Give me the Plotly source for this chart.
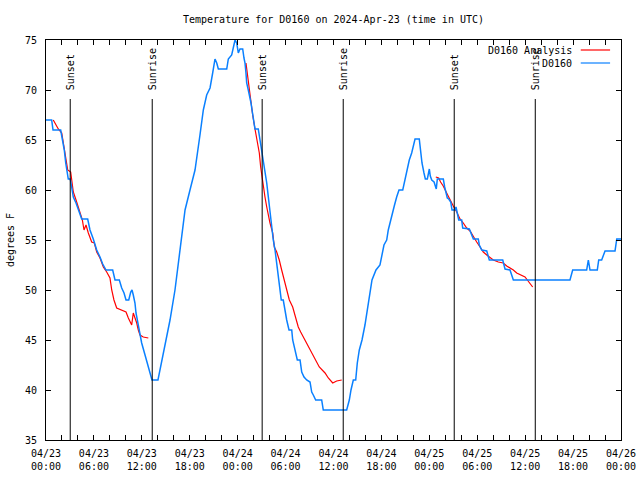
import pandas as pd
import plotly.graph_objects as go

BASE = "2024-04-23 00:00"
TITLE = "Temperature for D0160 on 2024-Apr-23 (time in UTC)"

# Observations (hours since BASE, deg F)
obs_hours = [0.0, 0.71, 0.88, 1.84, 2.04, 2.29, 2.47, 2.63, 2.79, 3.04, 3.22, 3.42, 3.76, 4.17, 4.47,
             5.22, 5.51, 5.92, 6.35, 6.76, 7.10, 7.51, 8.35, 8.64, 9.18, 9.48, 9.77, 10.02, 10.36,
             10.61, 10.77, 10.93, 11.14, 11.27, 11.43, 11.61, 11.77, 11.98, 12.40, 12.90, 13.27,
             14.02, 14.53, 15.03, 15.53, 16.15, 16.78, 17.41, 18.03, 18.66, 19.28, 19.70, 20.12,
             20.54, 20.87, 21.16, 21.38, 21.58, 22.63, 22.83, 23.25, 23.54, 23.67, 23.88, 24.08,
             24.29, 24.63, 24.79, 24.92, 25.04, 25.13, 25.33, 25.54, 25.67, 25.80, 25.96, 26.17,
             26.58, 26.80, 27.01, 27.21, 27.42, 27.64, 27.84, 28.05, 28.26, 28.46, 28.68, 28.89,
             29.09, 29.30, 29.46, 29.71, 29.93, 30.14, 30.43, 30.77, 30.89, 31.09, 31.30, 31.47,
             31.81, 32.02, 32.31, 32.64, 33.06, 33.27, 33.47, 33.77, 34.52, 34.72, 37.65, 37.98,
             38.19, 38.48, 38.78, 38.98, 39.23, 39.57, 39.94, 40.32, 40.82, 41.32, 41.82, 42.32,
             42.66, 42.86, 43.16, 43.36, 43.61, 43.91, 44.20, 44.67, 44.87, 45.17, 45.49, 45.79,
             46.08, 46.21, 46.74, 46.92, 47.08, 47.33, 47.50, 47.75, 47.87, 48.00, 48.12, 48.30,
             48.59, 48.75, 48.87, 49.00, 49.75, 49.92, 50.09, 50.25, 50.43, 50.68, 50.84, 51.22,
             51.34, 51.50, 51.68, 52.05, 52.18, 53.01, 53.18, 53.30, 53.51, 54.13, 54.26, 54.56,
             55.19, 55.51, 57.19, 57.48, 58.10, 58.52, 65.61, 65.95, 67.70, 67.91, 68.12, 69.03,
             69.21, 69.58, 70.00, 71.25, 71.47, 72.0]
obs_temp = [67.0, 67.0, 66.0, 66.0, 65.1, 64.0, 62.7, 61.7, 61.1, 61.1, 60.0, 59.3, 58.7, 57.8, 57.1,
            57.1, 56.0, 55.1, 54.0, 53.3, 52.6, 52.0, 52.0, 51.0, 51.0, 50.2, 49.7, 49.0, 49.0,
            49.8, 50.0, 49.5, 48.7, 47.7, 47.0, 46.3, 45.7, 44.7, 43.5, 42.0, 41.0,
            41.0, 43.0, 45.0, 47.0, 50.0, 54.0, 58.0, 60.0, 62.0, 65.5, 68.0, 69.5,
            70.2, 71.7, 73.1, 72.7, 72.1, 72.1, 73.1, 73.5, 74.8, 75.0, 74.7, 73.7,
            74.1, 74.1, 73.2, 72.7, 71.7, 70.7, 70.0, 69.3, 68.7, 68.0, 67.3, 66.1,
            66.1, 65.0, 63.7, 62.7, 61.7, 60.7, 59.3, 57.7, 56.7, 55.0, 54.0, 52.7,
            51.3, 50.5, 49.0, 49.0, 47.7, 47.0, 46.0, 46.0, 45.0, 44.3, 43.7, 43.0,
            43.0, 41.8, 41.3, 41.0, 40.8, 39.8, 39.5, 39.0, 39.0, 38.0, 38.0, 39.0,
            40.0, 41.0, 41.0, 42.7, 44.0, 45.0, 46.5, 48.5, 51.0, 52.0, 52.5, 54.5,
            55.0, 56.0, 57.0, 57.8, 58.4, 59.3, 60.0, 60.0, 60.8, 62.0, 63.0, 63.7,
            64.7, 65.1, 65.1, 63.7, 62.7, 61.7, 61.1, 61.1, 61.7, 62.1, 61.4, 61.0,
            60.8, 60.5, 60.1, 61.1, 61.1, 60.3, 59.8, 59.2, 59.1, 58.8, 58.0, 58.0,
            58.3, 57.5, 57.0, 57.0, 56.2, 56.1, 55.8, 55.5, 55.1, 55.1, 54.5, 54.0,
            53.9, 53.0, 53.0, 52.1, 52.0, 51.0, 51.0, 52.0, 52.0, 53.0, 52.0, 52.0,
            53.0, 53.0, 53.9, 53.9, 55.1, 55.1]

# Analysis (three separate runs; None marks a gap)
ana_hours = [0.91, 1.54, 1.97, 2.17, 2.38, 2.59, 2.72, 3.09, 3.22, 3.42, 3.76, 4.04, 4.35, 4.55, 4.76,
             5.01, 5.30, 5.72, 6.05, 6.35, 6.76, 7.18, 7.60, 8.01, 8.23, 8.51, 8.85, 9.48, 10.02,
             10.31, 10.73, 10.93, 11.14, 11.36, 11.56, 11.77, 12.18, 12.81, 18.0,
             25.04, 25.21, 25.46, 25.63, 25.88, 26.17, 26.46, 26.71, 26.88, 27.01, 27.21, 27.42,
             27.64, 27.84, 28.05, 28.39, 28.59, 28.89, 29.21, 29.51, 29.80, 30.14, 30.47, 30.89,
             31.18, 31.59, 31.89, 32.43, 33.06, 33.68, 34.22, 34.94, 35.35, 35.90, 36.40, 37.03, 42.0,
             48.81, 49.17, 49.41, 49.74, 50.17, 50.59, 51.00, 51.43, 51.84, 52.25, 52.68, 53.10,
             53.51, 53.93, 54.35, 54.76, 55.19, 55.60, 56.01, 56.64, 57.26, 57.69, 58.10, 58.52,
             58.94, 59.57, 59.98, 60.27, 60.61, 60.94]
ana_temp = [67.0, 66.1, 65.7, 64.7, 64.0, 62.8, 62.0, 61.8, 60.7, 59.8, 59.0, 58.3, 57.7, 57.0, 56.0,
            56.5, 55.7, 54.8, 54.7, 53.8, 53.2, 52.3, 51.8, 51.2, 50.0, 49.0, 48.2, 48.0, 47.8,
            47.2, 46.5, 47.7, 47.3, 46.7, 46.0, 45.5, 45.3, 45.2, None,
            72.7, 71.7, 70.0, 68.7, 67.5, 66.1, 65.0, 63.7, 62.3, 61.5, 60.3, 59.3,
            58.3, 57.3, 56.7, 55.7, 54.3, 53.8, 53.0, 52.0, 51.0, 50.0, 49.0, 48.3,
            47.5, 46.3, 45.8, 45.0, 44.0, 43.0, 42.3, 41.7, 41.2, 40.7, 40.9, 41.0, None,
            61.3, 61.2, 60.8, 60.4, 59.7, 59.0, 58.4, 57.8, 57.1, 56.7, 56.2, 55.9,
            55.3, 54.8, 54.3, 53.8, 53.5, 53.2, 53.0, 52.8, 52.7, 52.4, 52.2, 52.0,
            51.7, 51.5, 51.3, 51.0, 50.7, 50.3]

sun_times = ["2024-04-23 03:02", "2024-04-23 13:18", "2024-04-24 03:04",
             "2024-04-24 13:13", "2024-04-25 03:07", "2024-04-25 13:16"]
sun_labels = ["Sunset", "Sunrise", "Sunset", "Sunrise", "Sunset", "Sunrise"]

series_names = ["D0160 Analysis", "D0160"]
series_colors = ["#ff0000", "#0a80ff"]

base = pd.Timestamp(BASE)
obs_x = [base + pd.Timedelta(hours=h) for h in obs_hours]
ana_x = [base + pd.Timedelta(hours=h) for h in ana_hours]

FONT = "DejaVu Sans Mono"

fig = go.Figure()
fig.add_trace(go.Scatter(x=ana_x, y=ana_temp, mode="lines", name=series_names[0],
                         line=dict(color=series_colors[0], width=1.2), connectgaps=False))
fig.add_trace(go.Scatter(x=obs_x, y=obs_temp, mode="lines", name=series_names[1],
                         line=dict(color=series_colors[1], width=1.5)))

shapes = []
annotations = []
for t, lab in zip(sun_times, sun_labels):
    shapes.append(dict(type="line", xref="x", yref="paper", x0=t, x1=t, y0=0, y1=0.8525,
                       line=dict(color="black", width=1)))
    annotations.append(dict(x=t, xref="x", y=0.87, yref="paper", text=lab, textangle=-90,
                            showarrow=False, xanchor="center", yanchor="bottom",
                            font=dict(family=FONT, size=10, color="black")))

# gnuplot-style key: text on the left, line sample on the right
key_y = [0.975, 0.9425]
for name, color, ky in zip(series_names, series_colors, key_y):
    annotations.append(dict(x=0.918, xref="paper", y=ky, yref="paper", text=name,
                            showarrow=False, xanchor="right", yanchor="middle",
                            font=dict(family=FONT, size=10, color="black")))
    shapes.append(dict(type="line", xref="paper", yref="paper", x0=0.930, x1=0.981,
                       y0=ky, y1=ky, line=dict(color=color, width=1.2)))

fig.update_layout(
    width=640, height=480,
    margin=dict(l=46, r=19, t=40, b=40, autoexpand=False),
    paper_bgcolor="white", plot_bgcolor="white",
    font=dict(family=FONT, size=10, color="black"),
    showlegend=False,
    title=dict(text=TITLE, x=0.5, xref="paper", xanchor="center", y=0.96, yref="container",
               yanchor="middle", font=dict(family=FONT, size=10, color="black")),
    shapes=shapes, annotations=annotations,
)
fig.update_xaxes(type="date", range=["2024-04-23 00:00", "2024-04-26 00:00"],
                 tick0="2024-04-23 00:00", dtick=6 * 3600 * 1000,
                 tickformat="%m/%d<br>%H:%M", ticks="inside", ticklen=5, tickcolor="black",
                 minor=dict(dtick=2 * 3600 * 1000, ticks="inside", ticklen=5, tickcolor="black"),
                 showline=True, linecolor="black", linewidth=1, mirror="ticks",
                 showgrid=False, zeroline=False, ticklabelstandoff=4, automargin=False)
fig.update_yaxes(range=[35, 75], dtick=5, ticks="inside", ticklen=5, tickcolor="black",
                 showline=True, linecolor="black", linewidth=1, mirror="ticks",
                 showgrid=False, zeroline=False, ticklabelstandoff=6, automargin=False,
                 title=dict(text="degrees F", standoff=8, font=dict(family=FONT, size=10)))

fig.write_html("out.html", config={"displayModeBar": False},
               post_script="document.body.style.margin='0';document.body.style.overflow='hidden';")
